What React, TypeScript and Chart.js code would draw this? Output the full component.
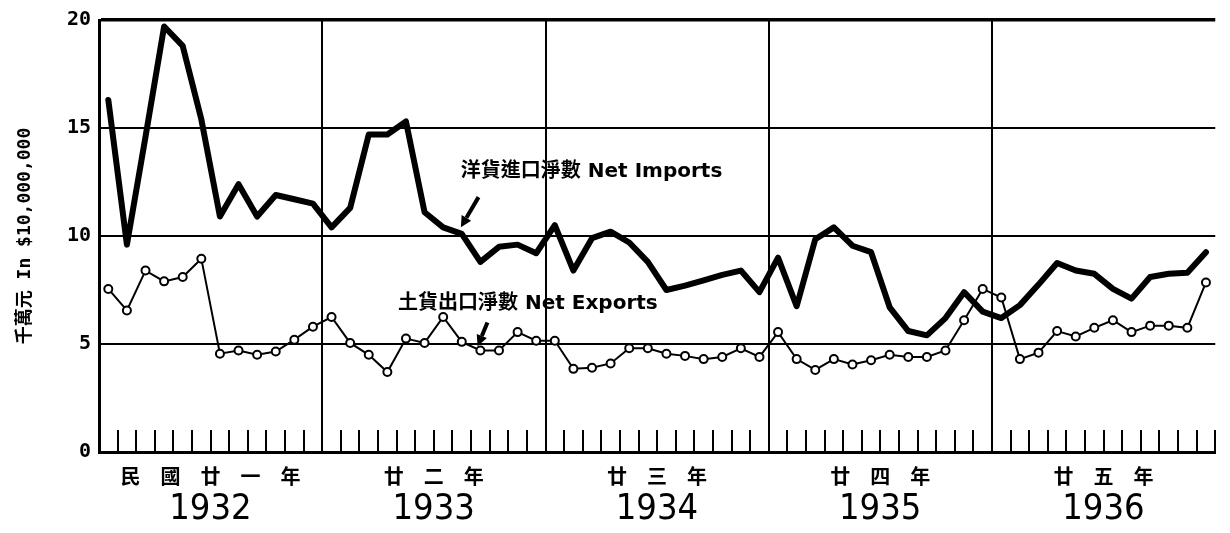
import React, { useEffect, useRef } from 'react';
import { Chart, registerables } from 'chart.js';

Chart.register(...registerables);

const years = ['1932', '1933', '1934', '1935', '1936'];
const months = ['01', '02', '03', '04', '05', '06', '07', '08', '09', '10', '11', '12'];
const yearLabelsZh = ['民國廿一年', '廿二年', '廿三年', '廿四年', '廿五年'];
const yearLabelsEn = ['1932', '1933', '1934', '1935', '1936'];
const yTickValues = [0, 5, 10, 15, 20];
const yTitle = '千萬元 In $10,000,000';
const importsLabel = '洋貨進口淨數 Net Imports';
const exportsLabel = '土貨出口淨數 Net Exports';

// Monthly values, in units of $10,000,000
const netImports = [
  16.3, 9.6, 14.6, 19.7, 18.8, 15.4, 10.9, 12.4, 10.9, 11.9, 11.7, 11.5,
  10.4, 11.3, 14.7, 14.7, 15.3, 11.1, 10.4, 10.1, 8.8, 9.5, 9.6, 9.2,
  10.5, 8.4, 9.9, 10.2, 9.7, 8.8, 7.5, 7.7, 7.95, 8.2, 8.4, 7.4,
  9.0, 6.75, 9.85, 10.4, 9.55, 9.25, 6.7, 5.6, 5.4, 6.2, 7.4, 6.5,
  6.2, 6.8, 7.75, 8.75, 8.4, 8.25, 7.55, 7.1, 8.1, 8.25, 8.3, 9.25,
];
const netExports = [
  7.55, 6.55, 8.4, 7.9, 8.1, 8.95, 4.55, 4.7, 4.5, 4.65, 5.2, 5.8,
  6.25, 5.05, 4.5, 3.7, 5.25, 5.05, 6.25, 5.1, 4.7, 4.7, 5.55, 5.15,
  5.15, 3.85, 3.9, 4.1, 4.8, 4.8, 4.55, 4.45, 4.3, 4.4, 4.8, 4.4,
  5.55, 4.3, 3.8, 4.3, 4.05, 4.25, 4.5, 4.4, 4.4, 4.7, 6.1, 7.55,
  7.15, 4.3, 4.6, 5.6, 5.35, 5.75, 6.1, 5.55, 5.85, 5.85, 5.75, 7.85,
];

const labels = years.flatMap((y) => months.map((m) => `${y}-${m}`));

// annotation anchors in data units (category index, value)
const annotations = [
  { text: importsLabel, x: 18.95, y: 12.95, from: [19.9, 11.8], to: [18.95, 10.4] },
  { text: exportsLabel, x: 15.57, y: 6.87, from: [20.38, 6.0], to: [19.85, 4.9] },
];

const annotationPlugin = {
  id: 'annotationPlugin',
  afterDatasetsDraw(chart: any) {
    const { ctx } = chart;
    const xs = chart.scales.x;
    const ys = chart.scales.y;
    ctx.save();
    ctx.fillStyle = '#000';
    ctx.strokeStyle = '#000';
    ctx.font = 'bold 20px "DejaVu Sans", "Noto Sans CJK TC", sans-serif';
    ctx.textBaseline = 'middle';
    ctx.textAlign = 'left';
    for (const a of annotations) {
      ctx.fillText(a.text, xs.getPixelForValue(a.x), ys.getPixelForValue(a.y));
      const x1 = xs.getPixelForValue(a.from[0]);
      const y1 = ys.getPixelForValue(a.from[1]);
      const x2 = xs.getPixelForValue(a.to[0]);
      const y2 = ys.getPixelForValue(a.to[1]);
      const ang = Math.atan2(y2 - y1, x2 - x1);
      const head = 11;
      const bx = x2 - head * Math.cos(ang);
      const by = y2 - head * Math.sin(ang);
      ctx.lineWidth = 4;
      ctx.beginPath();
      ctx.moveTo(x1, y1);
      ctx.lineTo(bx, by);
      ctx.stroke();
      ctx.beginPath();
      ctx.moveTo(x2, y2);
      ctx.lineTo(bx + 5.5 * Math.sin(ang), by - 5.5 * Math.cos(ang));
      ctx.lineTo(bx - 5.5 * Math.sin(ang), by + 5.5 * Math.cos(ang));
      ctx.closePath();
      ctx.fill();
    }
    ctx.restore();
  },
};

export default function App() {
  const canvasRef = useRef<HTMLCanvasElement | null>(null);

  useEffect(() => {
    if (!canvasRef.current) return;
    const chart = new Chart(canvasRef.current, {
      type: 'line',
      data: {
        labels,
        datasets: [
          {
            label: importsLabel,
            data: netImports,
            borderColor: '#000',
            borderWidth: 6,
            pointRadius: 0,
            tension: 0,
            borderJoinStyle: 'round',
            borderCapStyle: 'round',
          },
          {
            label: exportsLabel,
            data: netExports,
            borderColor: '#000',
            borderWidth: 2,
            pointRadius: 4,
            pointBorderWidth: 2,
            pointBackgroundColor: '#fff',
            pointBorderColor: '#000',
            tension: 0,
          },
        ],
      },
      options: {
        responsive: false,
        animation: false,
        events: [],
        layout: { padding: { top: 18, right: 6, left: 0, bottom: 0 } },
        plugins: {
          legend: { display: false },
          tooltip: { enabled: false },
          title: { display: false },
        },
        scales: {
          x: {
            type: 'category',
            position: 'bottom',
            offset: true,
            weight: 0,
            grid: {
              offset: true,
              color: '#000',
              lineWidth: (c: any) => (typeof c.index === 'number' && c.index % 12 === 0 ? 2 : 0),
              drawOnChartArea: true,
              drawTicks: true,
              tickLength: -22,
              tickColor: '#000',
              tickWidth: 2,
            },
            border: { display: true, color: '#000', width: 3 },
            ticks: {
              autoSkip: false,
              maxRotation: 0,
              minRotation: 0,
              padding: 34,
              labelOffset: -9.46,
              color: '#000',
              font: { family: '"Noto Sans CJK TC", sans-serif', size: 20, weight: 'bold' },
              callback: (_v: any, i: number) =>
                i % 12 === 6 ? yearLabelsZh[Math.floor(i / 12)].split('').join('\u3000') : '',
            },
            afterFit: (s: any) => {
              s.height = 39;
            },
          },
          x2: {
            type: 'category',
            position: 'bottom',
            offset: true,
            weight: 1,
            grid: { display: false, drawTicks: false },
            border: { display: false },
            ticks: {
              autoSkip: false,
              maxRotation: 0,
              minRotation: 0,
              padding: 1,
              labelOffset: -9.46,
              color: '#000',
              font: {
                family: '"DejaVu Sans Condensed", "Liberation Sans Narrow", "Liberation Sans", sans-serif',
                size: 36,
                lineHeight: 1,
              },
              callback: (_v: any, i: number) => (i % 12 === 6 ? yearLabelsEn[Math.floor(i / 12)] : ''),
            },
            afterFit: (s: any) => {
              s.height = 42;
            },
          },
          y: {
            type: 'linear',
            min: 0,
            max: 20,
            afterBuildTicks: (s: any) => {
              s.ticks = yTickValues.map((v) => ({ value: v }));
            },
            grid: {
              color: '#000',
              lineWidth: (c: any) => (c.tick && c.tick.value === 20 ? 3.5 : 2),
              drawTicks: false,
            },
            border: { display: true, color: '#000', width: 3 },
            ticks: {
              padding: 8,
              color: '#000',
              font: { family: '"DejaVu Sans Mono", monospace', size: 20, weight: 'bold' },
              callback: (v: any) => String(v),
            },
            title: {
              display: true,
              text: yTitle,
              color: '#000',
              padding: { top: 15, bottom: 0 },
              font: { family: '"DejaVu Sans Mono", "Noto Sans CJK TC", monospace', size: 18, weight: 'bold' },
            },
            afterFit: (s: any) => {
              s.width = 99;
            },
          },
        },
      },
      plugins: [annotationPlugin],
    } as any);
    return () => chart.destroy();
  }, []);

  return (
    <div
      style={{
        position: 'fixed',
        left: 0,
        top: 0,
        width: 1230,
        height: 533,
        overflow: 'hidden',
        background: '#fff',
      }}
    >
      <canvas ref={canvasRef} width={1240} height={533} style={{ display: 'block' }} />
    </div>
  );
}
